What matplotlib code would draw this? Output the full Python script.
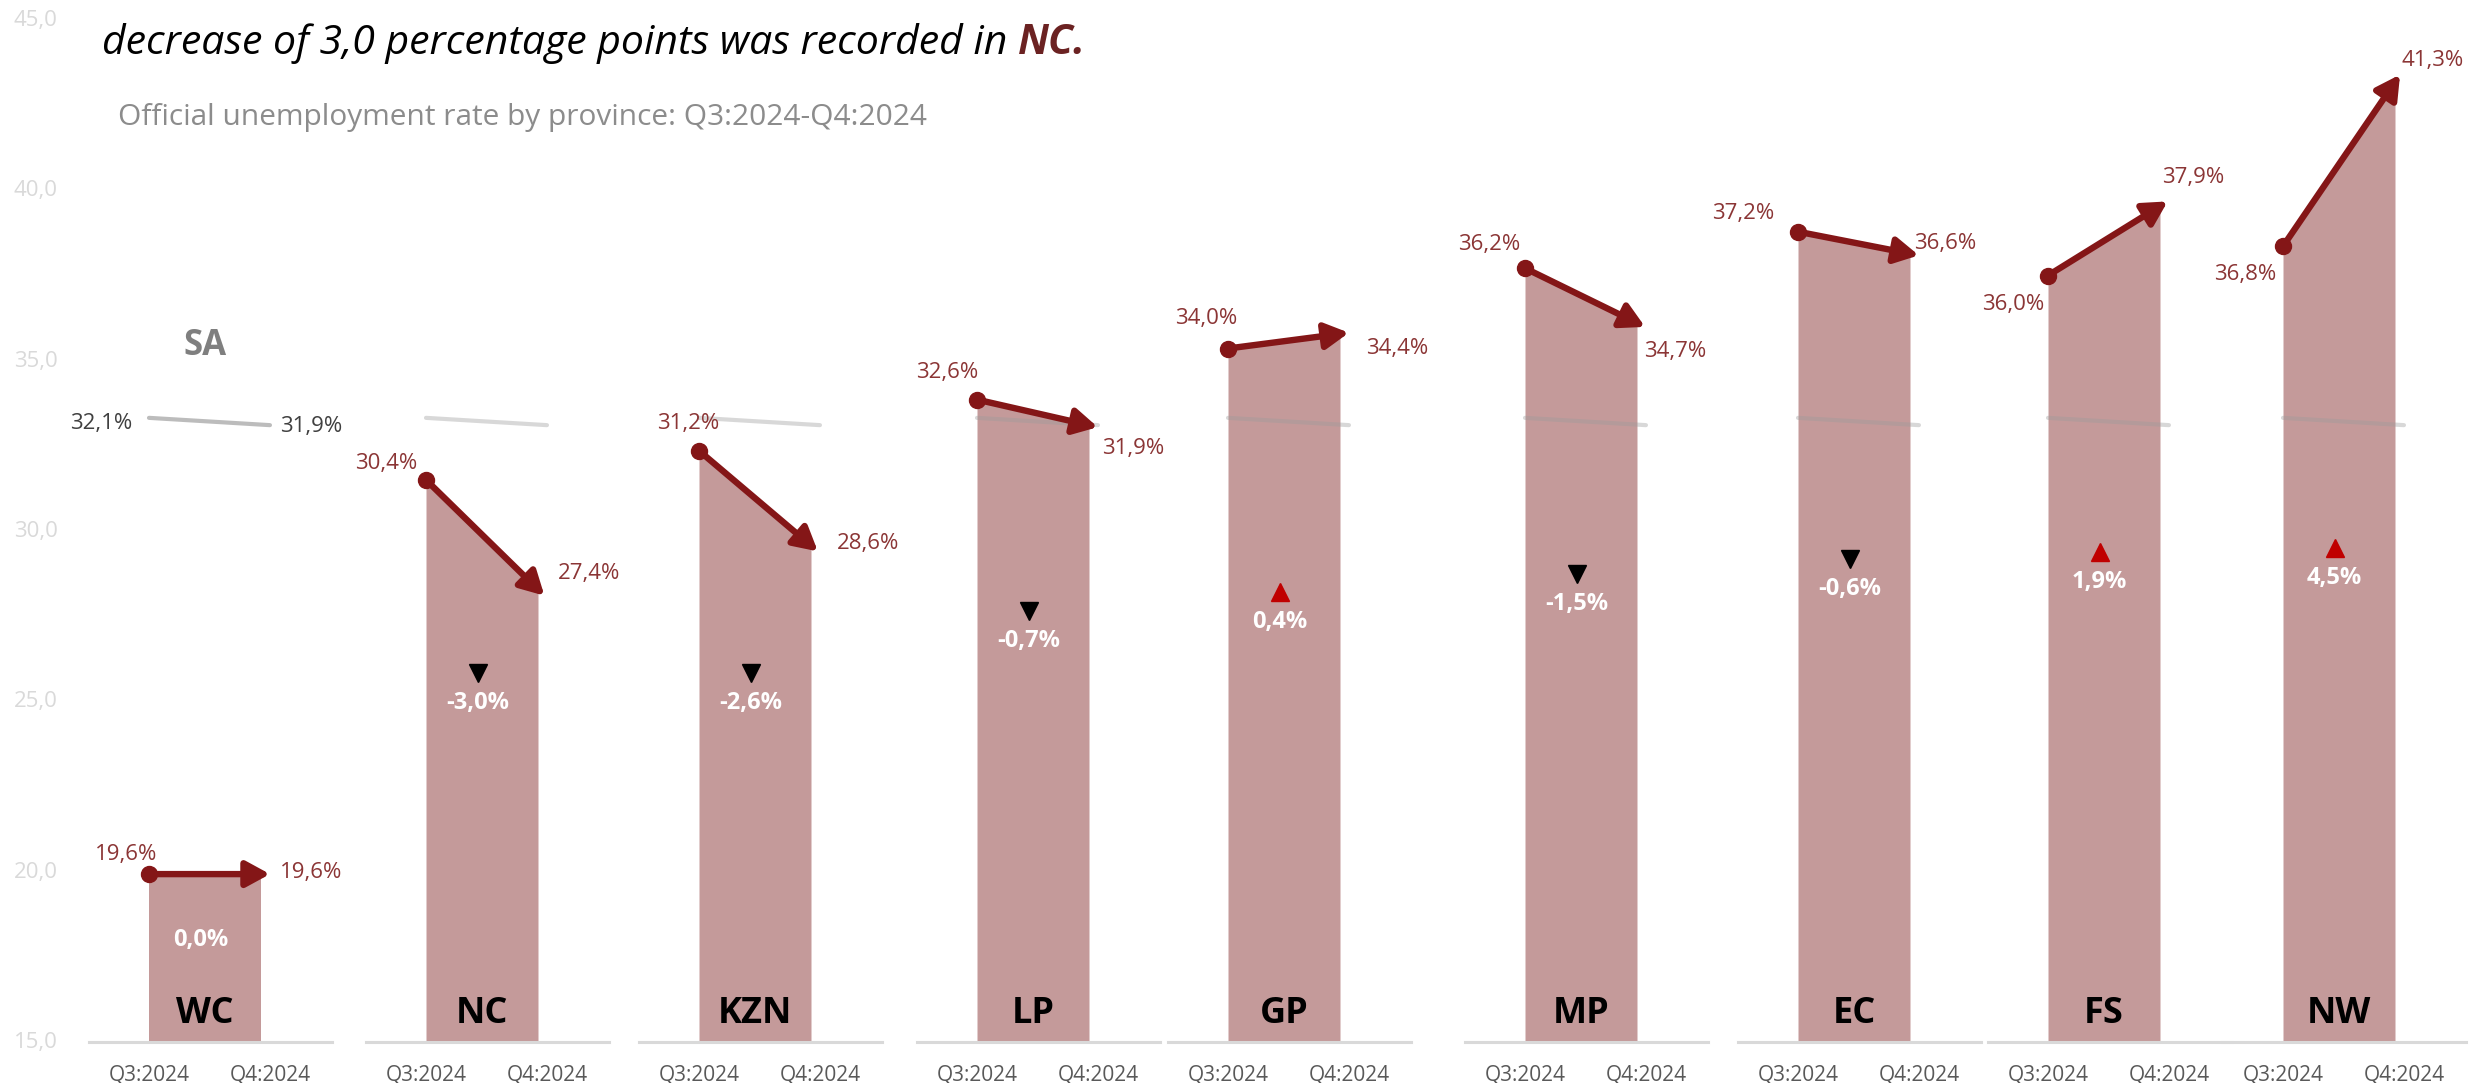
import math
import matplotlib
matplotlib.use("Agg")
import matplotlib.pyplot as plt
import matplotlib.transforms as mtrans
from matplotlib.text import Annotation
from matplotlib.patches import FancyArrowPatch

# ---------------- data ----------------
provinces = ["WC", "NC", "KZN", "LP", "GP", "MP", "EC", "FS", "NW"]
q3_rate = [19.6, 30.4, 31.2, 32.6, 34.0, 36.2, 37.2, 36.0, 36.8]
q4_rate = [19.6, 27.4, 28.6, 31.9, 34.4, 34.7, 36.6, 37.9, 41.3]
periods = ["Q3:2024", "Q4:2024"]
sa_label = "SA"
sa_q3 = 32.1
sa_q4 = 31.9
y_ticks = [15, 20, 25, 30, 35, 40, 45]

title_text = "decrease of 3,0 percentage points was recorded in "
title_hl = "NC."
subtitle = "Official unemployment rate by province: Q3:2024-Q4:2024"

# ---------------- layout (pixels / points) ----------------
W, H = 2488, 1083
panel_q3_px = [149, 426, 699, 977, 1228, 1525, 1798, 2048, 2283]
unit_px = 112          # distance between the Q3 and Q4 points
base_px = 1042         # pixel row of the 15,0 baseline
px_per_val = 36.5
xlim = (-0.54, 1.63)
q4_tick_x = 1.08
tip_ext_px = 9
# per-panel label offsets in px (dx, dy up)
q3_lab_off = [(8, 20), (-9, 16), (20, 27), (1, 27), (9, 30), (-5, 24), (-24, 18), (-4, -29), (-7, -28)]
q4_lab_off = [(19, 2), (20, 16), (26, 2), (13, -23), (26, -15), (7, -29), (4, 10), (2, 29), (7, 22)]
change_lab_y = [17.8, 24.3, 24.3, 26.0, 26.5, 27.0, 27.4, 27.6, 27.7]
yaxis_bottom_px, yaxis_top_px = 1040, 18

FILL = "#C49A9A"
ARROW = "#841617"
VAL = "#8B3535"
FONT = "Open Sans"

plt.rcParams["font.family"] = [FONT, "DejaVu Sans"]

fig = plt.figure(figsize=(W / 100, H / 100), dpi=100)
fig.patch.set_facecolor("white")


def fmt(v):
    return f"{v:.1f}".replace(".", ",") + "%"


P2PT = 0.72  # px -> pt at 100 dpi

bottom = (H - base_px) / H
ytop = 15 + base_px / px_per_val
tri_shift = mtrans.ScaledTranslation(0, 30 / 100, fig.dpi_scale_trans)

for i, prov in enumerate(provinces):
    v3, v4 = q3_rate[i], q4_rate[i]
    left_px = panel_q3_px[i] + xlim[0] * unit_px
    width_px = (xlim[1] - xlim[0]) * unit_px
    ax = fig.add_axes([left_px / W, bottom, width_px / W, 1 - bottom])
    ax.set_facecolor("none")
    ax.set_xlim(*xlim)
    ax.set_ylim(15, ytop)
    for s in ["left", "right", "top"]:
        ax.spines[s].set_visible(False)
    ax.spines["bottom"].set_color("#D9D9D9")
    ax.spines["bottom"].set_linewidth(2.2)
    ax.set_yticks([])
    ax.set_xticks([0, q4_tick_x])
    ax.set_xticklabels(periods)
    ax.tick_params(axis="x", length=0, pad=16, labelsize=15, labelcolor="#595959")

    # area
    ax.fill_between([0, 1], [v3, v4], 15, color=FILL, lw=0, zorder=1)

    # SA reference line
    if i == 0:
        ax.plot([0, q4_tick_x], [sa_q3, sa_q4], color="#A6A6A6", alpha=0.75, lw=3,
                solid_capstyle="round", zorder=2)
        ax.annotate(fmt(sa_q3), xy=(0, sa_q3), xytext=(-12, -4), textcoords="offset points",
                    ha="right", va="center", fontsize=16, color="#404040")
        ax.annotate(fmt(sa_q4), xy=(q4_tick_x, sa_q4), xytext=(7, -1), textcoords="offset points",
                    ha="left", va="center", fontsize=16, color="#404040")
        ax.annotate(sa_label, xy=(0.5, sa_q3), xytext=(0, 52), textcoords="offset points",
                    ha="center", va="center", fontsize=25, fontweight="bold", color="#7F7F7F")
    else:
        ax.plot([0, q4_tick_x], [sa_q3, sa_q4], color="#9A9A9A", alpha=0.38, lw=3,
                solid_capstyle="round", zorder=2)

    # arrow (tip slightly beyond the Q4 point, as in the original) + start dot
    dxp, dyp = unit_px, (v4 - v3) * px_per_val
    ext = tip_ext_px / math.hypot(dxp, dyp)
    arr = FancyArrowPatch((0, v3), (1 + ext, v4 + ext * (v4 - v3)),
                          arrowstyle="-|>,head_length=1.1,head_width=0.6",
                          mutation_scale=13, color=ARROW, lw=4.6, shrinkA=0, shrinkB=0,
                          zorder=3)
    ax.add_patch(arr)
    ax.plot([0], [v3], "o", ms=11.5, color=ARROW, zorder=4)

    # value labels
    dx, dy = q3_lab_off[i]
    ax.annotate(fmt(v3), xy=(0, v3), xytext=(dx * P2PT, dy * P2PT), textcoords="offset points",
                ha="right", va="center", fontsize=16, color=VAL, zorder=5)
    dx, dy = q4_lab_off[i]
    ax.annotate(fmt(v4), xy=(1, v4), xytext=(dx * P2PT, dy * P2PT), textcoords="offset points",
                ha="left", va="center", fontsize=16, color=VAL, zorder=5)

    # change label + triangle
    ch = round(v4 - v3, 1)
    ax.text(0.46, change_lab_y[i], fmt(ch), ha="center", va="center", fontsize=17,
            fontweight="bold", color="white", zorder=5)
    if ch != 0:
        ax.plot([0.46], [change_lab_y[i]], marker="v" if ch < 0 else "^", ms=13,
                color="black" if ch < 0 else "#C00000", lw=0,
                transform=ax.transData + tri_shift, zorder=5)

    # province label
    ax.annotate(prov, xy=(0.5, 15), xytext=(0, 28 * P2PT), textcoords="offset points",
                ha="center", va="center", fontsize=26, fontweight="bold", color="black", zorder=5)

# y-axis labels
ya = fig.add_axes([62 / W, (H - yaxis_bottom_px) / H, 0.0005, (yaxis_bottom_px - yaxis_top_px) / H])
ya.set_ylim(15, 45)
ya.set_yticks(y_ticks)
ya.set_yticklabels([f"{t:.1f}".replace(".", ",") for t in y_ticks])
ya.tick_params(axis="y", length=0, pad=3, labelsize=16, labelcolor="#D9D9D9")
ya.set_xticks([])
for s in ya.spines.values():
    s.set_visible(False)
ya.set_facecolor("none")

# title and subtitle
t1 = fig.text(102 / W, 1 - 64 / H, title_text, fontsize=29.5, style="italic", color="black",
              ha="left", va="bottom")
fig.add_artist(Annotation(title_hl, xy=(1, 0), xycoords=t1, ha="left", va="bottom",
                          fontsize=29.5, style="italic", fontweight="bold", color="#6B2222"))
fig.text(118 / W, 1 - 118 / H, subtitle, fontsize=21.5, color="#8C8C8C", ha="left", va="center")

fig.savefig("out.png", dpi=100, facecolor="white")
